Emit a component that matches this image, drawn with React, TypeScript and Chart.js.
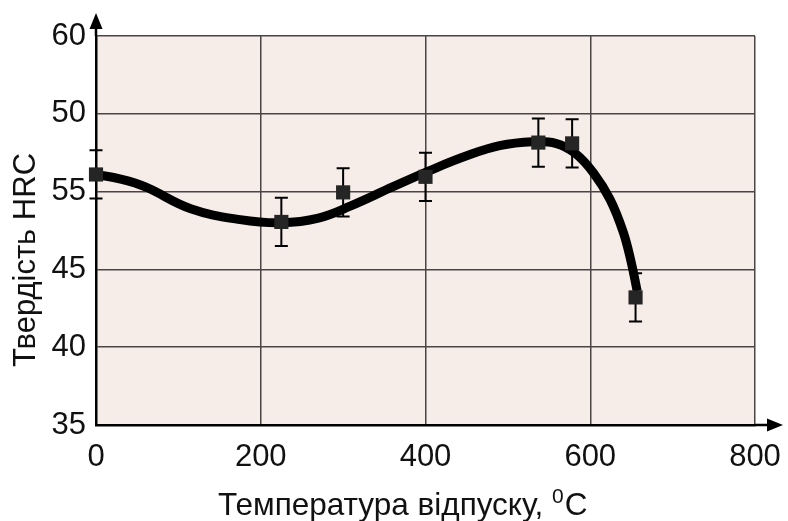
import React, { useEffect, useRef } from "react";
import { Chart, registerables } from "chart.js";

Chart.register(...registerables);

// Measured points (temperature, hardness) with error half-widths
const TEMPS = [0, 225, 300, 400, 537, 578, 655];
const HARDNESS = [51.1, 48.05, 49.95, 50.95, 53.15, 53.1, 43.2];
const ERRORS = [1.55, 1.55, 1.55, 1.55, 1.55, 1.55, 1.55];

// Fitted curve samples
const CURVE_T = [0, 30, 60, 115, 175, 225, 270, 310, 360, 405, 450, 490, 530, 558, 582, 604, 624, 640, 650, 657];
const CURVE_H = [51.1, 50.8, 50.3, 48.9, 48.2, 48.0, 48.3, 49.1, 50.3, 51.35, 52.3, 52.95, 53.2, 53.1, 52.45, 51.2, 49.5, 47.4, 45.4, 43.6];

// Axis tick labels (as printed on the original figure)
const X_TICKS = ["0", "200", "400", "600", "800"];
const Y_TICKS = ["35", "40", "45", "55", "50", "60"];

const X_TITLE = "Температура відпуску,";
const X_TITLE_SUP = "0";
const X_TITLE_UNIT = "C";
const Y_TITLE = "Твердість HRC";

const FONT = "'Liberation Sans', Arial, sans-serif";

const decor = {
  id: "decor",
  beforeDraw(chart: any) {
    const { ctx, chartArea } = chart;
    ctx.save();
    ctx.fillStyle = "#f6ece8";
    ctx.fillRect(chartArea.left, chartArea.top, chartArea.right - chartArea.left, chartArea.bottom - chartArea.top);
    ctx.restore();
  },
  afterDatasetDraw(chart: any, args: any) {
    if (args.index !== 1) return;
    const { ctx } = chart;
    const xs = chart.scales.x;
    const ys = chart.scales.y;
    ctx.save();
    ctx.strokeStyle = "#000";
    ctx.lineWidth = 2;
    TEMPS.forEach((t, i) => {
      const px = xs.getPixelForValue(t);
      const top = ys.getPixelForValue(HARDNESS[i] + ERRORS[i]);
      const bot = ys.getPixelForValue(HARDNESS[i] - ERRORS[i]);
      ctx.beginPath();
      ctx.moveTo(px, top);
      ctx.lineTo(px, bot);
      ctx.moveTo(px - 6.5, top);
      ctx.lineTo(px + 6.5, top);
      ctx.moveTo(px - 6.5, bot);
      ctx.lineTo(px + 6.5, bot);
      ctx.stroke();
    });
    ctx.restore();
  },
  afterDraw(chart: any) {
    const { ctx, chartArea } = chart;
    const { left, right, bottom, top } = chartArea;
    ctx.save();
    // axis arrows
    ctx.strokeStyle = "#000";
    ctx.fillStyle = "#000";
    ctx.lineWidth = 2.5;
    ctx.beginPath();
    ctx.moveTo(left, top);
    ctx.lineTo(left, 24);
    ctx.moveTo(right, bottom);
    ctx.lineTo(772, bottom);
    ctx.stroke();
    ctx.beginPath();
    ctx.moveTo(left, 13);
    ctx.lineTo(left - 6.5, 29);
    ctx.lineTo(left + 6.5, 29);
    ctx.closePath();
    ctx.fill();
    ctx.beginPath();
    ctx.moveTo(783, bottom);
    ctx.lineTo(767, bottom - 6.5);
    ctx.lineTo(767, bottom + 6.5);
    ctx.closePath();
    ctx.fill();

    // x title with superscript
    ctx.fillStyle = "#111";
    ctx.textBaseline = "alphabetic";
    ctx.textAlign = "left";
    ctx.font = `31.5px ${FONT}`;
    let x = 218;
    const baseY = 515;
    ctx.fillText(X_TITLE + " ", x, baseY);
    x += ctx.measureText(X_TITLE + " ").width;
    ctx.font = `21px ${FONT}`;
    ctx.fillText(X_TITLE_SUP, x, baseY - 12);
    x += ctx.measureText(X_TITLE_SUP).width + 1;
    ctx.font = `31.5px ${FONT}`;
    ctx.fillText(X_TITLE_UNIT, x, baseY);

    // y title
    ctx.save();
    ctx.translate(35, 260);
    ctx.rotate(-Math.PI / 2);
    ctx.textAlign = "center";
    ctx.textBaseline = "alphabetic";
    ctx.font = `31px ${FONT}`;
    ctx.fillText(Y_TITLE, 0, 0);
    ctx.restore();
    ctx.restore();
  },
};

export default function App() {
  const ref = useRef<HTMLCanvasElement | null>(null);
  useEffect(() => {
    if (!ref.current) return;
    const chart = new Chart(ref.current, {
      type: "line",
      data: {
        datasets: [
          {
            type: "scatter",
            data: TEMPS.map((t, i) => ({ x: t, y: HARDNESS[i] })),
            pointStyle: "rect",
            pointRadius: 10,
            pointBackgroundColor: "#252525",
            pointBorderWidth: 0,
            showLine: false,
            clip: false,
          } as any,
          {
            type: "line",
            data: CURVE_T.map((t, i) => ({ x: t, y: CURVE_H[i] })),
            borderColor: "#000",
            borderWidth: 9,
            pointRadius: 0,
            fill: false,
            tension: 0.4,
            borderCapStyle: "butt",
            borderJoinStyle: "round",
          } as any,
        ],
      },
      options: {
        animation: false,
        responsive: false,
        layout: { padding: { top: 36, right: 33, left: 0, bottom: 0 } },
        plugins: { legend: { display: false }, tooltip: { enabled: false } },
        scales: {
          x: {
            type: "linear",
            min: 0,
            max: 800,
            afterFit: (s: any) => {
              s.height = 96;
              s.paddingLeft = 0;
              s.paddingRight = 0;
            },
            ticks: {
              stepSize: 200,
              padding: 14,
              color: "#111",
              font: { family: FONT, size: 31 },
              callback: (v: any) => X_TICKS[Math.round(Number(v) / 200)] ?? "",
              maxRotation: 0,
            },
            grid: { color: "#4a4444", lineWidth: 1.5, drawTicks: false },
            border: { color: "#000", width: 2.5 },
          },
          y: {
            type: "linear",
            min: 35,
            max: 60,
            afterFit: (s: any) => {
              s.width = 96;
              s.paddingTop = 0;
              s.paddingBottom = 0;
            },
            ticks: {
              stepSize: 5,
              padding: 10,
              color: "#111",
              font: { family: FONT, size: 31 },
              callback: (v: any) => Y_TICKS[Math.round((Number(v) - 35) / 5)] ?? "",
            },
            grid: { color: "#4a4444", lineWidth: 1.5, drawTicks: false },
            border: { color: "#000", width: 2.5 },
          },
        },
      },
      plugins: [decor],
    });
    return () => chart.destroy();
  }, []);
  return (
    <div style={{ position: "fixed", left: 0, top: 0, width: 788, height: 521, background: "#fff" }}>
      <canvas ref={ref} width={788} height={521} style={{ display: "block" }} />
    </div>
  );
}
